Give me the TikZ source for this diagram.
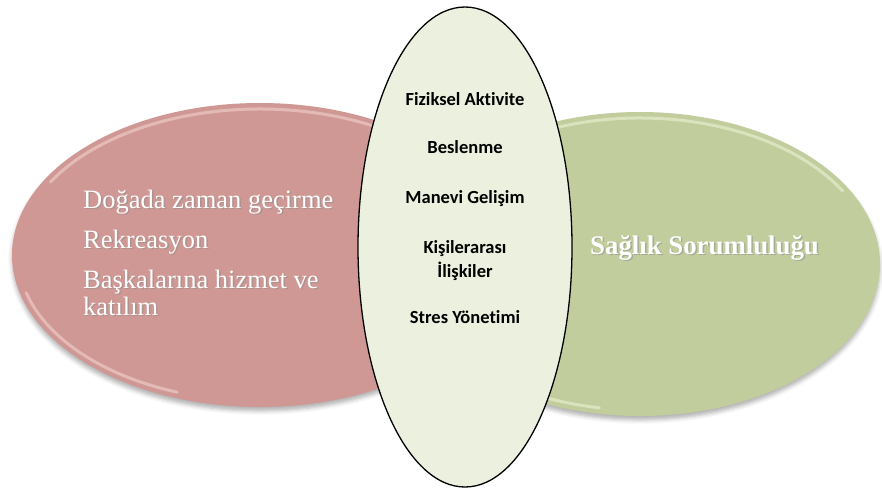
\documentclass[tikz,border=0pt]{standalone}
\usepackage{fontspec}
\setmainfont{Liberation Serif}
\newfontfamily\calib[Ligatures=NoCommon]{Carlito}
\usetikzlibrary{shapes.geometric,shadows.blur,calc}
\definecolor{pinkfill}{RGB}{208,152,148}
\definecolor{pinkrim}{RGB}{245,215,212}
\definecolor{greenfill}{RGB}{194,205,158}
\definecolor{greenrim}{RGB}{238,246,215}
\definecolor{centerfill}{RGB}{235,241,222}
\tikzset{
  blob/.style={ellipse, inner sep=0pt, draw=none,
    blur shadow={shadow xshift=0pt, shadow yshift=-4pt, shadow blur radius=4pt, shadow opacity=30}},
  rim/.style={line width=3pt, opacity=0.55, line cap=round},
  mid/.style={ellipse, inner sep=0pt, fill=centerfill, draw=black, line width=1.3pt},
  midtxt/.style={font=\calib\bfseries\fontsize{18.5}{22}\selectfont, text=black, anchor=base, inner sep=0pt},
  sidetxt/.style={font=\fontsize{26.5}{27}\selectfont, text=white, anchor=base west, inner sep=0pt},
  sideshadow/.style={font=\fontsize{26.5}{27}\selectfont, text=black!45, opacity=0.5, anchor=base west, inner sep=0pt},
}
\begin{document}
\begin{tikzpicture}[x=1pt,y=-1pt]
\useasboundingbox (0,0) rectangle (882,488);
% left ellipse
\node[blob, fill=pinkfill, minimum width=496pt, minimum height=304pt] (L) at (260,255) {};
\draw[rim, draw=pinkrim] ([shift={(30:242pt and 146pt)}]L.center) arc[start angle=30, end angle=150, x radius=242pt, y radius=146pt];
\draw[rim, draw=pinkrim] ([shift={(195:242pt and 146pt)}]L.center) arc[start angle=195, end angle=250, x radius=242pt, y radius=146pt];
% right ellipse
\node[blob, fill=greenfill, minimum width=480pt, minimum height=304pt] (R) at (640,264) {};
\draw[rim, draw=greenrim] ([shift={(30:234pt and 146pt)}]R.center) arc[start angle=30, end angle=150, x radius=234pt, y radius=146pt];
\draw[rim, draw=greenrim] ([shift={(230:234pt and 146pt)}]R.center) arc[start angle=230, end angle=260, x radius=234pt, y radius=146pt];
% left texts
\foreach \p/\t in {208/{Doğada zaman geçirme}, 248/{Rekreasyon}, 288/{Başkalarına hizmet ve}, 315/{katılım}}{
  \node[sideshadow] at (84.5,\p+1.5) {\t};
}
\node[sidetxt] (l1) at (83,208) {Doğada zaman geçirme};
\node[sidetxt] (l2) at (83,248) {Rekreasyon};
\node[sidetxt] (l3) at (83,288) {Başkalarına hizmet ve};
\node[sidetxt] (l4) at (83,315) {katılım};
% right text
\node[sideshadow, font=\bfseries\fontsize{26.8}{27}\selectfont] at (591.5,255.5) {Sağlık Sorumluluğu};
\node[sidetxt, font=\bfseries\fontsize{26.8}{27}\selectfont] (r1) at (590,254) {Sağlık Sorumluluğu};
% center ellipse
\node[mid, minimum width=214pt, minimum height=480pt] (C) at (465,247) {};
\node[midtxt] (c1) at (465,105) {Fiziksel Aktivite};
\node[midtxt] (c2) at (465,153) {Beslenme};
\node[midtxt] (c3) at (465,203) {Manevi Gelişim};
\node[midtxt] (c4) at (465,253) {Kişilerarası};
\node[midtxt] (c5) at (465,277) {İlişkiler};
\node[midtxt] (c6) at (465,323) {Stres Yönetimi};
\end{tikzpicture}
\end{document}
